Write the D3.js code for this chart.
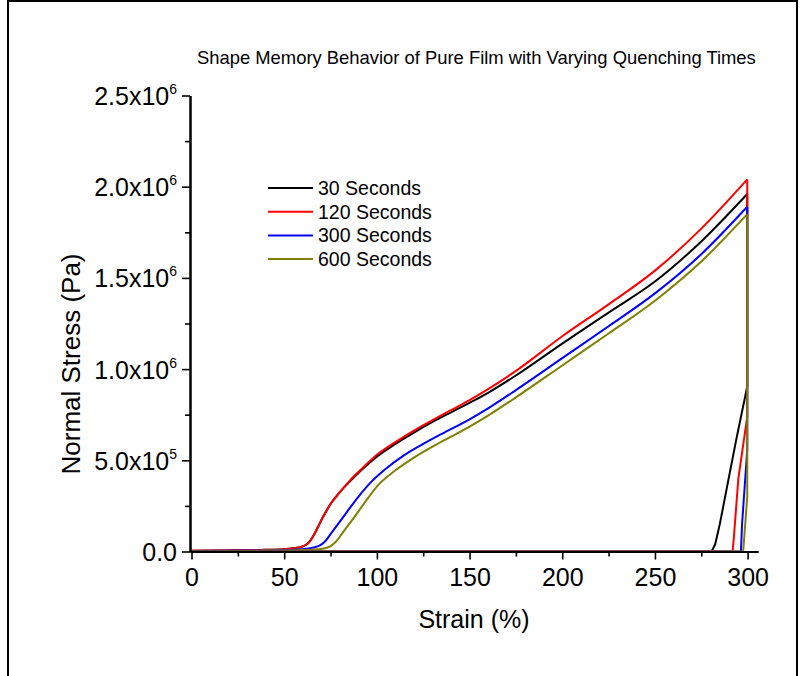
<!DOCTYPE html>
<html>
<head>
<meta charset="utf-8">
<script src="https://cdn.jsdelivr.net/npm/d3@7"></script>
<style>
  html, body { margin: 0; padding: 0; background: #fff; }
  svg { display: block; font-family: "Liberation Sans", Arial, sans-serif; }
</style>
</head>
<body>
<svg id="chart" width="801" height="676"></svg>
<script>
// Loading branches: [strain %, stress in units of 1e6 Pa]
const load30 = [[0,0.004],[20,0.006],[40,0.009],[50,0.013],[56,0.019],[60,0.028],[62,0.038],[64,0.058],[66,0.09],[68,0.13],[71,0.19],[75,0.26],[80,0.325],[85.5,0.385],[92,0.45],[100,0.52],[110,0.59],[120,0.652],[130,0.71],[140,0.763],[150,0.815],[160,0.87],[175,0.965],[200,1.14],[225,1.31],[250,1.48],[275,1.70],[299.8,1.96]];
const load120 = [[0,0.004],[20,0.006],[40,0.009],[50,0.013],[56,0.019],[60,0.028],[62,0.038],[64,0.058],[66,0.09],[68,0.13],[71,0.19],[75,0.26],[80,0.325],[85.5,0.39],[92,0.455],[100,0.53],[110,0.6],[120,0.663],[130,0.72],[140,0.775],[150,0.83],[160,0.89],[175,0.99],[200,1.18],[225,1.355],[250,1.54],[275,1.77],[299.8,2.04]];
const load300 = [[0,0.003],[40,0.006],[55,0.01],[62,0.015],[66,0.022],[69,0.032],[72,0.055],[75,0.095],[79,0.15],[83.7,0.215],[90,0.3],[96.3,0.375],[105,0.455],[115,0.53],[125,0.59],[135,0.645],[150,0.725],[160,0.785],[175,0.885],[200,1.06],[225,1.235],[250,1.415],[275,1.63],[299.8,1.89]];
const load600 = [[0,0.003],[40,0.005],[60,0.008],[68,0.012],[72,0.018],[75,0.03],[78,0.055],[81,0.095],[85,0.15],[89,0.205],[95,0.29],[100.8,0.365],[110,0.445],[120,0.515],[130,0.575],[140,0.63],[150,0.685],[160,0.745],[175,0.845],[200,1.02],[225,1.195],[250,1.375],[275,1.59],[299.8,1.85]];

// Unloading and recovery branches
const unload30 = [[299.8,1.96],[299.8,0.905],[294,0.62],[289,0.36],[285,0.15],[282.5,0.04],[280.6,0],[0,0]];
const unload120 = [[299.8,2.04],[299.8,0.74],[295,0.4],[292.6,0.08],[291.9,0],[0,0]];
const unload300 = [[299.8,1.89],[299.8,0.557],[297,0.15],[296.4,0],[0,0]];
const unload600 = [[299.8,1.85],[299.8,0.3],[297.6,0],[0,0]];

const seriesNames = ["30 Seconds", "120 Seconds", "300 Seconds", "600 Seconds"];
const seriesColors = ["#000000", "#ff0000", "#0000ff", "#808000"];
const loadSets = [load30, load120, load300, load600];
const unloadSets = [unload30, unload120, unload300, unload600];

const xTicks = [0, 50, 100, 150, 200, 250, 300];
const xMinor = [25, 75, 125, 175, 225, 275];
const yTicks = [0, 0.5, 1.0, 1.5, 2.0, 2.5];
const yMinor = [0.25, 0.75, 1.25, 1.75, 2.25];
const yTickBase = ["0.0", "5.0x10", "1.0x10", "1.5x10", "2.0x10", "2.5x10"];
const yTickExp = ["", "5", "6", "6", "6", "6"];

const titleText = "Shape Memory Behavior of Pure Film with Varying Quenching Times";
const xTitle = "Strain (%)";
const yTitle = "Normal Stress (Pa)";

const svg = d3.select("#chart");

// page frame
svg.append("rect").attr("x", 8).attr("y", 1).attr("width", 789).attr("height", 700)
  .attr("fill", "none").attr("stroke", "#000").attr("stroke-width", 2);

const x = d3.scaleLinear().domain([-0.81, 305.6]).range([190, 758]);
const y = d3.scaleLinear().domain([0, 2.5]).range([551.5, 95.5]);

// curves
const lineSmooth = d3.line().x(d => x(d[0])).y(d => y(d[1])).curve(d3.curveMonotoneX);
const lineStraight = d3.line().x(d => x(d[0])).y(d => y(d[1]));

const plot = svg.append("g");
loadSets.forEach((s, i) => {
  plot.append("path").attr("d", lineSmooth(s)).attr("fill", "none")
    .attr("stroke", seriesColors[i]).attr("stroke-width", 2).attr("stroke-linejoin", "round");
});
unloadSets.forEach((s, i) => {
  plot.append("path").attr("d", lineStraight(s)).attr("fill", "none")
    .attr("stroke", seriesColors[i]).attr("stroke-width", 2).attr("stroke-linejoin", "round");
});

// axes
const axisStyle = g => {
  g.select(".domain").attr("stroke", "#000").attr("stroke-width", 2);
  g.selectAll(".tick line").attr("stroke", "#000").attr("stroke-width", 1.6);
};

svg.append("g").attr("transform", `translate(0,${y(0)})`)
  .call(d3.axisBottom(x).tickValues(xMinor).tickSize(5).tickSizeOuter(0).tickFormat(""))
  .call(axisStyle);
const gx = svg.append("g").attr("transform", `translate(0,${y(0)})`)
  .call(d3.axisBottom(x).tickValues(xTicks).tickSize(8).tickSizeOuter(0).tickFormat(d3.format("d")))
  .call(axisStyle);
gx.selectAll(".tick text").attr("y", 34).attr("dy", 0)
  .attr("font-size", 25).attr("font-family", "Liberation Sans, Arial, sans-serif").attr("fill", "#000");

svg.append("g").attr("transform", `translate(${x(-0.81)},0)`)
  .call(d3.axisLeft(y).tickValues(yMinor).tickSize(5).tickSizeOuter(0).tickFormat(""))
  .call(axisStyle);
const gy = svg.append("g").attr("transform", `translate(${x(-0.81)},0)`)
  .call(d3.axisLeft(y).tickValues(yTicks).tickSize(8).tickSizeOuter(0).tickFormat(""))
  .call(axisStyle);
gy.selectAll(".tick text").remove();
gy.selectAll(".tick").each(function(d, i) {
  const t = d3.select(this).append("text")
    .attr("x", -13).attr("y", 9).attr("text-anchor", "end")
    .attr("font-size", 25).attr("fill", "#000")
    .attr("font-family", "Liberation Sans, Arial, sans-serif");
  t.append("tspan").text(yTickBase[i]);
  if (yTickExp[i]) {
    t.append("tspan").attr("font-size", 14).attr("dy", -11).text(yTickExp[i]);
  }
});

// titles
svg.append("text").attr("x", 197).attr("y", 64)
  .attr("font-size", 18.4).attr("fill", "#000").text(titleText);

svg.append("text").attr("x", 474).attr("y", 628).attr("text-anchor", "middle")
  .attr("font-size", 25).attr("fill", "#000").text(xTitle);

svg.append("text").attr("transform", "translate(80,364) rotate(-90)")
  .attr("text-anchor", "middle").attr("font-size", 26).attr("fill", "#000").text(yTitle);

// legend
const legend = svg.append("g");
seriesNames.forEach((name, i) => {
  const ly = 188 + i * 23.7;
  legend.append("line").attr("x1", 268).attr("x2", 313).attr("y1", ly).attr("y2", ly)
    .attr("stroke", seriesColors[i]).attr("stroke-width", 2);
  legend.append("text").attr("x", 318).attr("y", ly + 7).attr("font-size", 19.5)
    .attr("fill", "#000").text(name);
});
</script>
</body>
</html>
